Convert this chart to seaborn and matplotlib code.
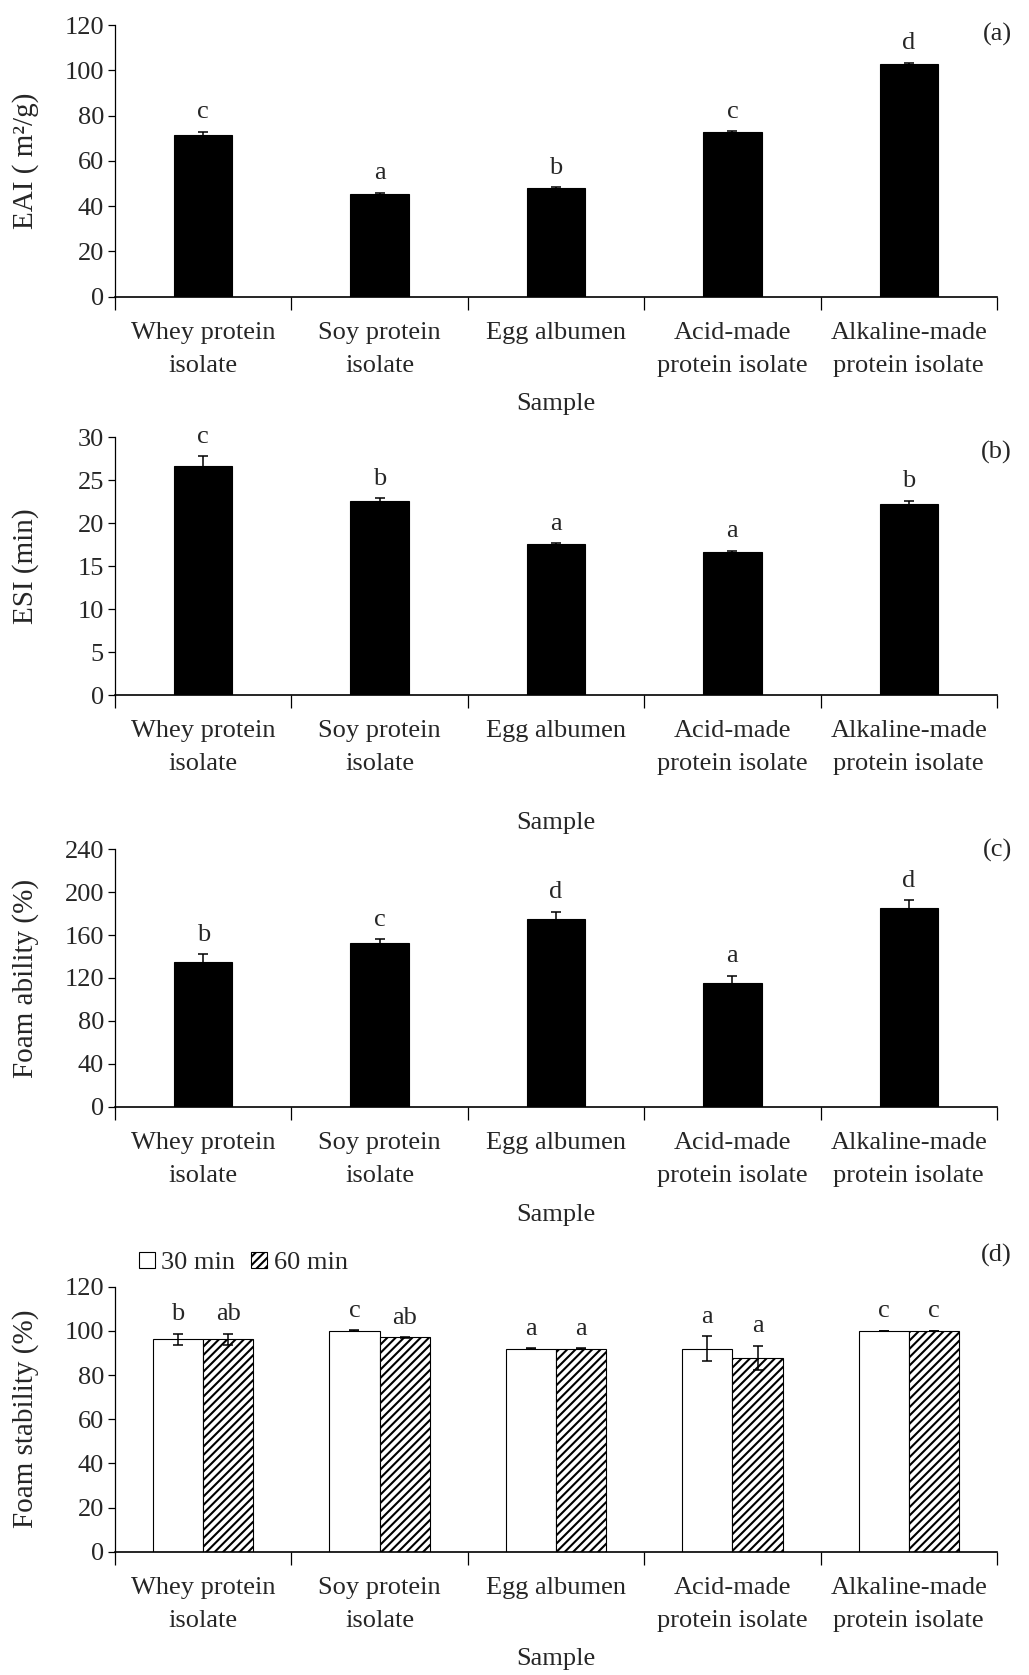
import numpy as np
import pandas as pd
import matplotlib
matplotlib.use("Agg")
import matplotlib.pyplot as plt
from matplotlib.patches import Patch
import seaborn as sns

# ---------------- data ----------------
categories = ["Whey protein\nisolate", "Soy protein\nisolate", "Egg albumen",
              "Acid-made\nprotein isolate", "Alkaline-made\nprotein isolate"]

eai = [71.6, 45.4, 48.0, 72.6, 102.9]
eai_err = [1.3, 0.6, 0.5, 0.5, 0.5]
eai_letters = ["c", "a", "b", "c", "d"]

esi = [26.7, 22.6, 17.6, 16.7, 22.2]
esi_err = [1.1, 0.3, 0.1, 0.1, 0.45]
esi_letters = ["c", "b", "a", "a", "b"]

foam_ability = [135.0, 152.6, 175.0, 115.3, 185.3]
foam_ability_err = [7.0, 3.5, 7.0, 7.0, 7.0]
foam_ability_letters = ["b", "c", "d", "a", "d"]

times = ["30 min", "60 min"]
fs_30 = [96.2, 100.0, 91.9, 92.0, 100.0]
fs_30_err = [2.5, 0.2, 0.3, 5.5, 0.1]
fs_30_letters = ["b", "c", "a", "a", "c"]
fs_60 = [96.3, 97.0, 91.9, 87.7, 100.0]
fs_60_err = [2.5, 0.1, 0.3, 5.6, 0.1]
fs_60_letters = ["ab", "ab", "a", "a", "c"]

# ---------------- style ----------------
sns.set_style("ticks")
plt.rcParams["font.family"] = ["Liberation Serif", "DejaVu Serif"]
plt.rcParams["hatch.linewidth"] = 1.5
TICK_FS = 19
LAB_FS = 21

W, H = 1029, 1675
fig = plt.figure(figsize=(W / 100, H / 100), dpi=100)

left = 115 / W
width = 882 / W


def make_ax(top_px, bottom_px):
    return fig.add_axes([left, 1 - bottom_px / H, width, (bottom_px - top_px) / H])


def style_ax(ax, ylabel, ymax, step, xlabel_y):
    ax.set_xlim(-0.5, len(categories) - 0.5)
    ax.set_ylim(0, ymax)
    ax.set_yticks(np.arange(0, ymax + 0.001, step))
    ax.set_xticks(np.arange(len(categories)))
    ax.set_xticklabels(categories, fontsize=TICK_FS, linespacing=1.65)
    ax.set_xticks(np.arange(-0.5, len(categories), 1), minor=True)
    ax.tick_params(axis="x", which="major", length=0, pad=18)
    ax.tick_params(axis="x", which="minor", length=9, width=0.9, color="black", direction="out")
    ax.tick_params(axis="y", which="major", length=5, width=0.9, color="black",
                   labelsize=TICK_FS, pad=3, direction="out")
    for s in ["top", "right"]:
        ax.spines[s].set_visible(False)
    ax.spines["left"].set_linewidth(0.9)
    ax.spines["bottom"].set_linewidth(1.2)
    ax.spines["left"].set_color("black")
    ax.spines["bottom"].set_color("black")
    ax.set_ylabel(ylabel, fontsize=LAB_FS)
    ax.yaxis.label.set_va("center")
    ax.yaxis.set_label_coords(-0.102, 0.5)
    ax.set_xlabel("Sample", fontsize=TICK_FS)
    ax.xaxis.label.set_va("center")
    ax.xaxis.set_label_coords(0.5, xlabel_y)
    ax.grid(False)


def bar_panel(ax, vals, errs, letters):
    df = pd.DataFrame({"Sample": categories, "value": vals})
    sns.barplot(data=df, x="Sample", y="value", color="black", saturation=1,
                width=0.33, errorbar=None, edgecolor="black", linewidth=0.8, ax=ax)
    xs = np.arange(len(categories))
    ax.errorbar(xs, vals, yerr=errs, fmt="none", ecolor="black",
                elinewidth=1.1, capsize=3.6, capthick=1.1)
    for x, v, e, l in zip(xs, vals, errs, letters):
        ax.annotate(l, (x, v + e), xytext=(0, 6), textcoords="offset points",
                    ha="center", va="bottom", fontsize=TICK_FS)


# (a)
ax_a = make_ax(25, 296.7)
bar_panel(ax_a, eai, eai_err, eai_letters)
style_ax(ax_a, "EAI ( m\u00b2/g)", 120, 20, (296.7 - 404) / 271.7)

# (b)
ax_b = make_ax(437.3, 695.3)
bar_panel(ax_b, esi, esi_err, esi_letters)
style_ax(ax_b, "ESI (min)", 30, 5, (695.3 - 823) / 258)

# (c)
ax_c = make_ax(849.3, 1106.7)
bar_panel(ax_c, foam_ability, foam_ability_err, foam_ability_letters)
style_ax(ax_c, "Foam ability (%)", 240, 40, (1106.7 - 1215) / 257.4)

# (d)
ax_d = make_ax(1286.7, 1551.7)
df_d = pd.DataFrame({
    "Sample": categories * 2,
    "Time": [times[0]] * len(categories) + [times[1]] * len(categories),
    "value": fs_30 + fs_60,
})
sns.barplot(data=df_d, x="Sample", y="value", hue="Time", hue_order=times,
            palette={times[0]: "white", times[1]: "white"}, saturation=1,
            width=0.57, gap=0, errorbar=None, edgecolor="black", linewidth=0.8,
            legend=False, ax=ax_d)
bars = sorted(ax_d.patches, key=lambda p: p.get_x())
vals_d, errs_d, lets_d = [], [], []
for i in range(len(categories)):
    vals_d += [fs_30[i], fs_60[i]]
    errs_d += [fs_30_err[i], fs_60_err[i]]
    lets_d += [fs_30_letters[i], fs_60_letters[i]]
xs_d = []
for j, p in enumerate(bars):
    if j % 2 == 1:
        p.set_hatch("////")
    xs_d.append(p.get_x() + p.get_width() / 2)
ax_d.errorbar(xs_d, vals_d, yerr=errs_d, fmt="none", ecolor="black",
              elinewidth=1.1, capsize=3.6, capthick=1.1)
for x, v, e, l in zip(xs_d, vals_d, errs_d, lets_d):
    ax_d.annotate(l, (x, v + e), xytext=(0, 6), textcoords="offset points",
                  ha="center", va="bottom", fontsize=TICK_FS)
style_ax(ax_d, "Foam stability (%)", 120, 20, (1551.7 - 1659) / 265)
handles = [Patch(facecolor="white", edgecolor="black", linewidth=0.8),
           Patch(facecolor="white", edgecolor="black", linewidth=0.8, hatch="////")]
ax_d.legend(handles, times, loc="center left", bbox_to_anchor=(0.027, 1.09),
            ncol=2, frameon=False, fontsize=TICK_FS, handlelength=0.6,
            handleheight=0.6, handletextpad=0.25, columnspacing=0.6,
            borderaxespad=0, borderpad=0)

# panel labels
for lab, ypx in [("(a)", 34), ("(b)", 452), ("(c)", 850.5), ("(d)", 1255.5)]:
    fig.text(1012 / W, 1 - ypx / H, lab, ha="right", va="center", fontsize=TICK_FS)

fig.savefig("out.png", dpi=100)
